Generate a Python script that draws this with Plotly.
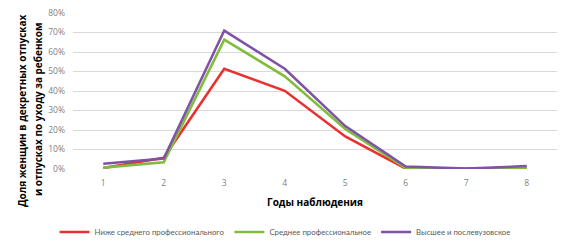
import plotly.graph_objects as go

years = ["1", "2", "3", "4", "5", "6", "7", "8"]
below_secondary = [0.005, 0.058, 0.514, 0.401, 0.167, 0.002, 0.001, 0.005]
secondary_prof = [0.007, 0.034, 0.663, 0.475, 0.205, 0.005, 0.001, 0.005]
higher = [0.027, 0.054, 0.710, 0.514, 0.220, 0.013, 0.002, 0.015]

names = ["Ниже среднего профессионального", "Среднее профессиональное", "Высшее и послевузовское"]
colors = ["#e8322f", "#80bd3e", "#8052a6"]
ytitle_lines = ["Доля женщин в декретных отпусках", "и отпусках по уходу за ребенком"]

fig = go.Figure()
for name, vals, c in zip(names, [below_secondary, secondary_prof, higher], colors):
    fig.add_trace(go.Scatter(x=years, y=vals, mode="lines", name=name,
                             line=dict(color=c, width=2.6)))

annotations = []
for line, xp in zip(ytitle_lines, [-0.1054, -0.0723]):
    annotations.append(dict(text="<b>" + line + "</b>", xref="paper", yref="paper",
                            x=xp, y=0.378, textangle=-90, xanchor="center", yanchor="middle",
                            showarrow=False, font=dict(size=10, color="#000000")))

fig.update_layout(
    width=570, height=249,
    margin=dict(l=73, r=13, t=13, b=80, autoexpand=False),
    paper_bgcolor="white", plot_bgcolor="white",
    font=dict(family="Open Sans, sans-serif", size=8, color="#7f7f7f"),
    xaxis=dict(type="category", range=[-0.5, 7.5], showgrid=False, showline=False,
               zeroline=False, ticks="", tickfont=dict(size=8.5, color="#7f7f7f"),
               ticklabelstandoff=7,
               title=dict(text="<b>Годы наблюдения</b>", font=dict(size=10, color="#000000"), standoff=12)),
    yaxis=dict(range=[0, 0.8], dtick=0.1, tickformat=".0%", showgrid=True,
               gridcolor="#d9d9d9", gridwidth=1, zeroline=False, showline=False,
               ticks="", tickfont=dict(size=8.5, color="#7f7f7f"), ticklabelstandoff=7),
    legend=dict(orientation="h", xref="container", x=0.5, xanchor="center",
                yref="container", y=0.068, yanchor="middle",
                font=dict(family="Lato, sans-serif", size=7.8, color="#595959"),
                itemwidth=30, tracegroupgap=0),
    showlegend=True,
    annotations=annotations,
)

fig.write_html("out.html")
